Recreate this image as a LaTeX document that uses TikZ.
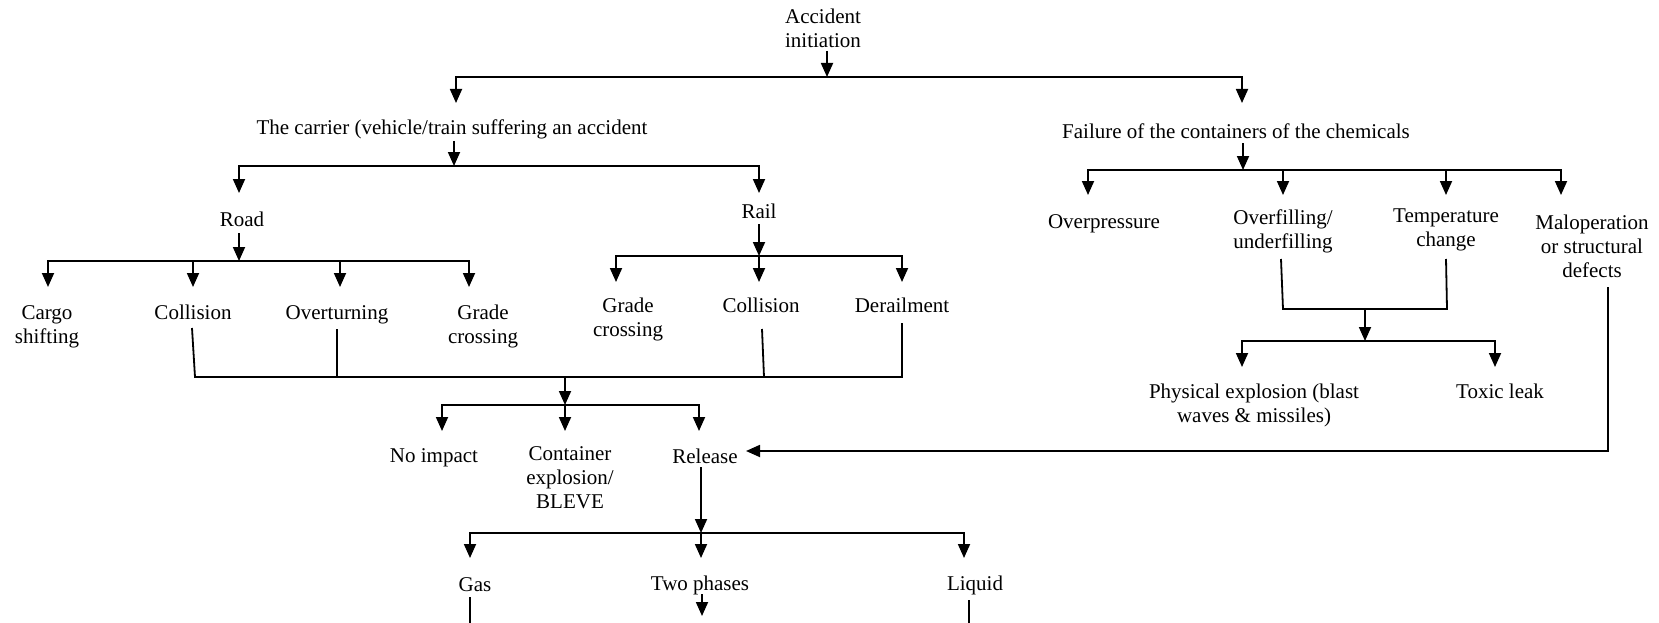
\documentclass[tikz,border=0pt]{standalone}
\usepackage{fontspec}
\setmainfont{Liberation Serif}
\usetikzlibrary{arrows.meta}
\tikzset{
  lbl/.style={font=\fontsize{21}{24}\selectfont, inner sep=0pt, align=center},
  ln/.style={line width=1.8pt, line join=miter},
  arr/.style={ln, -{Triangle[length=14pt,width=12pt]}}
}
\begin{document}
\begin{tikzpicture}[x=1pt,y=-1pt]
\useasboundingbox (0,0) rectangle (1659,623);
% ---------- nodes ----------
\node[lbl] (acc) at (823,28) {Accident\\initiation};
\node[lbl] (carrier) at (452,129) {The carrier (vehicle/train suffering an accident};
\node[lbl] (fail) at (1236,131) {Failure of the containers of the chemicals};
\node[lbl] (road) at (242,219) {Road};
\node[lbl] (rail) at (759,211) {Rail};
\node[lbl] (cargo) at (47,327) {Cargo\\shifting};
\node[lbl] (collA) at (193,312) {Collision};
\node[lbl] (overt) at (337,315) {Overturning};
\node[lbl] (gradeA) at (483,326) {Grade\\crossing};
\node[lbl] (gradeB) at (628,319) {Grade\\crossing};
\node[lbl] (collB) at (761,305) {Collision};
\node[lbl] (derail) at (902,305) {Derailment};
\node[lbl] (noimp) at (434,458) {No impact};
\node[lbl] (cont) at (570,478) {Container\\explosion/\\BLEVE};
\node[lbl] (rel) at (705,456) {Release};
\node[lbl] (gas) at (475,585) {Gas};
\node[lbl] (two) at (700,585) {Two phases};
\node[lbl] (liq) at (975,585) {Liquid};
\node[lbl] (overp) at (1104,224) {Overpressure};
\node[lbl] (overf) at (1283,231) {Overfilling/\\underfilling};
\node[lbl] (temp) at (1446,230) {Temperature\\change};
\node[lbl] (malop) at (1592,246) {Maloperation\\or structural\\defects};
\node[lbl] (phys) at (1254,405) {Physical explosion (blast\\waves \& missiles)};
\node[lbl] (toxic) at (1500,391) {Toxic leak};
% ---------- coordinates ----------
% level 0
\coordinate (s0) at (827,51); \coordinate (j0) at (827,77);
\coordinate (t0a) at (456,103); \coordinate (t0b) at (1242,103);
% carrier
\coordinate (s1) at (454,141); \coordinate (j1) at (454,166);
\coordinate (t1a) at (239,193); \coordinate (t1b) at (759,193);
% road
\coordinate (s2) at (239,233); \coordinate (j2) at (239,261);
\coordinate (t2a) at (48,287); \coordinate (t2b) at (193,287);
\coordinate (t2c) at (340,287); \coordinate (t2d) at (469,287);
% rail
\coordinate (s3) at (759,224); \coordinate (j3) at (759,256);
\coordinate (t3a) at (616,282); \coordinate (t3b) at (759,282); \coordinate (t3c) at (902,282);
% gather of impacts
\coordinate (g1) at (192,328); \coordinate (g1b) at (195,377);
\coordinate (g2) at (337,329); \coordinate (g2b) at (337,377);
\coordinate (g3) at (762,329); \coordinate (g3b) at (764,377);
\coordinate (g4) at (902,323); \coordinate (g4b) at (902,377);
\coordinate (s4) at (565,377); \coordinate (j4) at (565,405);
\coordinate (t4a) at (442,431); \coordinate (t4b) at (565,431); \coordinate (t4c) at (699,431);
% release
\coordinate (s5) at (701,467); \coordinate (j5) at (701,533);
\coordinate (t5a) at (470,558); \coordinate (t5b) at (701,558); \coordinate (t5c) at (964,558);
\coordinate (gs) at (470,597); \coordinate (ge) at (470,626);
\coordinate (ts) at (702,594); \coordinate (te) at (702,616);
\coordinate (ls) at (969,600); \coordinate (le) at (969,626);
% failure
\coordinate (s6) at (1243,143); \coordinate (j6) at (1243,170);
\coordinate (t6a) at (1088,195); \coordinate (t6b) at (1283,195);
\coordinate (t6c) at (1446,195); \coordinate (t6d) at (1561,195);
\coordinate (h1) at (1281,259); \coordinate (h1b) at (1283,309);
\coordinate (h2) at (1446,259); \coordinate (h2b) at (1447,309);
\coordinate (s7) at (1365,309); \coordinate (j7) at (1365,341);
\coordinate (t7a) at (1242,367); \coordinate (t7b) at (1495,367);
\coordinate (m1) at (1608,287); \coordinate (m2) at (1608,451); \coordinate (m3) at (746,451);
% ---------- connectors ----------
\draw[arr] (s0) -- (j0);
\draw[arr] (j0) -| (t0a);
\draw[arr] (j0) -| (t0b);

\draw[arr] (s1) -- (j1);
\draw[arr] (j1) -| (t1a);
\draw[arr] (j1) -| (t1b);

\draw[arr] (s2) -- (j2);
\draw[arr] (j2) -| (t2a);
\draw[arr] (j2) -| (t2d);
\draw[arr] (t2b |- j2) -- (t2b);
\draw[arr] (t2c |- j2) -- (t2c);

\draw[arr] (s3) -- (j3);
\draw[arr] (j3) -| (t3a);
\draw[arr] (j3) -| (t3c);
\draw[arr] (j3) -- (t3b);

\draw[ln] (g1) -- (g1b) -- (g4b) -- (g4);
\draw[ln] (g2) -- (g2b);
\draw[ln] (g3) -- (g3b);
\draw[arr] (s4) -- (j4);
\draw[arr] (j4) -| (t4a);
\draw[arr] (j4) -| (t4c);
\draw[arr] (j4) -- (t4b);

\draw[arr] (s5) -- (j5);
\draw[arr] (j5) -| (t5a);
\draw[arr] (j5) -| (t5c);
\draw[arr] (j5) -- (t5b);
\draw[ln] (gs) -- (ge);
\draw[arr] (ts) -- (te);
\draw[ln] (ls) -- (le);

\draw[arr] (s6) -- (j6);
\draw[arr] (j6) -| (t6a);
\draw[arr] (j6) -| (t6d);
\draw[arr] (t6b |- j6) -- (t6b);
\draw[arr] (t6c |- j6) -- (t6c);
\draw[ln] (h1) -- (h1b) -- (h2b) -- (h2);
\draw[arr] (s7) -- (j7);
\draw[arr] (j7) -| (t7a);
\draw[arr] (j7) -| (t7b);

\draw[arr] (m1) -- (m2) -- (m3);
\end{tikzpicture}
\end{document}
